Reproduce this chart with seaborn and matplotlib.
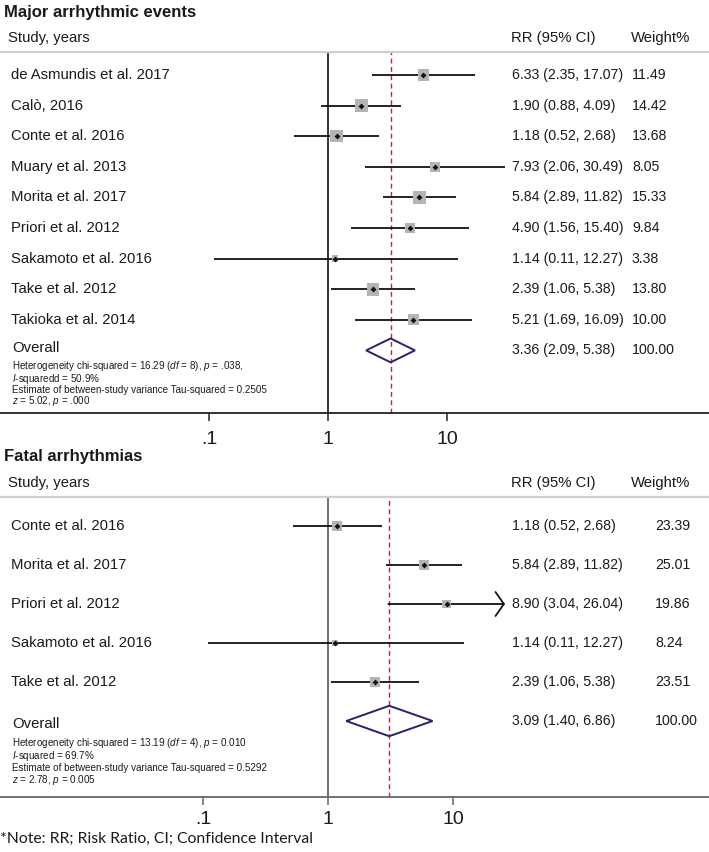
import numpy as np
import pandas as pd
import matplotlib
matplotlib.use("Agg")
import matplotlib.pyplot as plt
import seaborn as sns
from matplotlib.patches import Polygon

sns.set_theme(style="white")
plt.rcParams['font.family'] = ['Liberation Sans', 'DejaVu Sans']
plt.rcParams['mathtext.fontset'] = 'custom'
plt.rcParams['mathtext.rm'] = 'Liberation Sans'
plt.rcParams['mathtext.it'] = 'Liberation Sans:italic'

# ---------------- data ----------------
studies1 = ["de Asmundis et al. 2017", "Calò, 2016", "Conte et al. 2016", "Muary et al. 2013",
            "Morita et al. 2017", "Priori et al. 2012", "Sakamoto et al. 2016", "Take et al. 2012",
            "Takioka et al. 2014"]
rr1 = [6.33, 1.90, 1.18, 7.93, 5.84, 4.90, 1.14, 2.39, 5.21]
lo1 = [2.35, 0.88, 0.52, 2.06, 2.89, 1.56, 0.11, 1.06, 1.69]
hi1 = [17.07, 4.09, 2.68, 30.49, 11.82, 15.40, 12.27, 5.38, 16.09]
w1 = [11.49, 14.42, 13.68, 8.05, 15.33, 9.84, 3.38, 13.80, 10.00]
arrow1 = [False] * 9
overall1 = [3.36, 2.09, 5.38]
overall_w1 = 100.00
het1 = [r"Heterogeneity chi-squared = 16.29 ($\mathit{df}$ = 8), $\mathit{p}$ = .038,",
        r"$\mathit{I}$-squaredd = 50.9%",
        "Estimate of between-study variance Tau-squared = 0.2505",
        r"$\mathit{z}$ = 5.02, $\mathit{p}$ = .000"]

studies2 = ["Conte et al. 2016", "Morita et al. 2017", "Priori et al. 2012",
            "Sakamoto et al. 2016", "Take et al. 2012"]
rr2 = [1.18, 5.84, 8.90, 1.14, 2.39]
lo2 = [0.52, 2.89, 3.04, 0.11, 1.06]
hi2 = [2.68, 11.82, 26.04, 12.27, 5.38]
w2 = [23.39, 25.01, 19.86, 8.24, 23.51]
arrow2 = [False, False, True, False, False]
overall2 = [3.09, 1.40, 6.86]
overall_w2 = 100.00
het2 = [r"Heterogeneity chi-squared = 13.19 ($\mathit{df}$ = 4), $\mathit{p}$ = 0.010",
        r"$\mathit{I}$-squared = 69.7%",
        "Estimate of between-study variance Tau-squared = 0.5292",
        r"$\mathit{z}$ = 2.78, $\mathit{p}$ = 0.005"]

tick_vals = [0.1, 1, 10]
tick_labels = [".1", "1", "10"]

W, H = 709, 852
fig = plt.figure(figsize=(W / 100, H / 100), dpi=100)

FS = 10.7
FSN = 10.2


def ftext(x, y, s, **kw):
    kw.setdefault("va", "center")
    kw.setdefault("ha", "left")
    kw.setdefault("color", "#1a1a1a")
    fig.text(x / W, 1 - y / H, s, **kw)


def panel(title, title_y, header_y, top, bottom, first, step, decade, k_sq,
          studies, rr, lo, hi, w, arrows, overall, ow, het, het_ys, overall_y, weight_x,
          axis_color, vline_color, tick_pad):
    ax = fig.add_axes([0, 1 - bottom / H, 1, (bottom - top) / H])
    n = len(studies)
    idx = np.arange(n)
    df = pd.DataFrame({"study": studies, "rr": rr, "lo": lo, "hi": hi, "w": w, "y": idx})
    ax.set_xscale("log")
    ax.set_xlim(10 ** (-328 / decade), 10 ** ((W - 328) / decade))
    ax.set_ylim((bottom - first) / step, (top - first) / step)

    # reference lines
    ax.axvline(1, color=vline_color, lw=1.2, zorder=1)
    ax.axvline(overall[0], color="#a3323c", lw=1.0, ls=(0, (3.5, 2.5)), zorder=1)

    # CIs
    for _, r in df.iterrows():
        if arrows[int(r.y)]:
            ax.annotate("", xy=(r.hi, r.y), xytext=(r.lo, r.y),
                        arrowprops=dict(arrowstyle="->,head_length=0.5,head_width=0.72",
                                        lw=1.3, color="#111111", shrinkA=0, shrinkB=0))
        else:
            ax.hlines(r.y, r.lo, r.hi, color="#111111", lw=1.3, zorder=2)

    # weight squares and point estimates
    side_pt = k_sq * np.sqrt(df["w"].values) * 0.72
    sns.scatterplot(data=df, x="rr", y="y", marker="s", s=side_pt ** 2, color="#b4b4b4",
                    linewidth=0, legend=False, ax=ax, zorder=3)
    sns.scatterplot(data=df, x="rr", y="y", marker="D", s=9, color="#111111",
                    linewidth=0, legend=False, ax=ax, zorder=4)

    # diamond
    est, dlo, dhi = overall
    h = 0.39
    dia = Polygon([(dlo, n), (est, n - h), (dhi, n), (est, n + h)], closed=True,
                  fill=False, edgecolor="#23236e", lw=1.4, zorder=4)
    ax.add_patch(dia)

    # spines / ticks
    for s in ["left", "right"]:
        ax.spines[s].set_visible(False)
    ax.spines["top"].set_color("#cfcfcf")
    ax.spines["top"].set_linewidth(1.6)
    ax.spines["bottom"].set_color(axis_color)
    ax.spines["bottom"].set_linewidth(1.3)
    ax.set_xticks(tick_vals)
    ax.set_xticklabels(tick_labels)
    ax.xaxis.set_minor_locator(matplotlib.ticker.NullLocator())
    ax.tick_params(axis="x", bottom=True, length=6, width=1.1, color=axis_color,
                   labelsize=14, pad=tick_pad, labelcolor="#1a1a1a")
    ax.set_yticks([])
    ax.set_xlabel("")
    ax.set_ylabel("")

    # text
    ftext(4, title_y, title, fontsize=12, fontweight="bold")
    ftext(8, header_y, "Study, years", fontsize=FS)
    ftext(511, header_y, "RR (95% CI)", fontsize=FS)
    ftext(631, header_y, "Weight%", fontsize=FS)
    for i in range(n):
        y = first + i * step
        ftext(11, y, studies[i], fontsize=FS)
        ftext(512, y, f"{rr[i]:.2f} ({lo[i]:.2f}, {hi[i]:.2f})", fontsize=FSN)
        ftext(weight_x, y, f"{w[i]:.2f}", fontsize=FSN)
    yo = first + n * step
    ftext(12, overall_y, "Overall", fontsize=FS)
    ftext(512, yo, f"{est:.2f} ({dlo:.2f}, {dhi:.2f})", fontsize=FSN)
    ftext(weight_x, yo, f"{ow:.2f}", fontsize=FSN)
    for s, yy in zip(het, het_ys):
        ftext(12, yy, s, fontsize=7.1)
    return ax


panel("Major arrhythmic events", 12, 38, 52, 413, 75, 30.6, 119, 3.4,
      studies1, rr1, lo1, hi1, w1, arrow1, overall1, overall_w1, het1,
      [366, 379, 390, 401], 348, 632, "#222222", "#111111", 7)
panel("Fatal arrhythmias", 457, 483, 497, 797, 526, 39, 125, 2.0,
      studies2, rr2, lo2, hi2, w2, arrow2, overall2, overall_w2, het2,
      [743, 756, 768, 780], 724, 655, "#666666", "#555555", 4)

ftext(0, 839, "*Note: RR; Risk Ratio, CI; Confidence Interval", fontsize=11.3,
      family=["Lato", "DejaVu Sans"])

fig.savefig("out.png", dpi=100)
